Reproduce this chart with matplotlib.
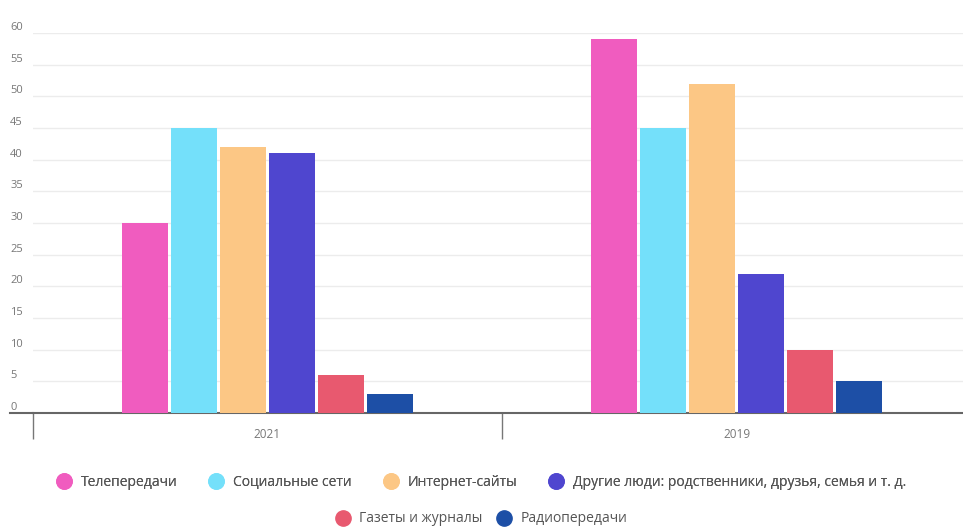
import matplotlib.pyplot as plt
import numpy as np
from matplotlib.lines import Line2D

plt.rcParams['font.family'] = ['Open Sans', 'DejaVu Sans']

years = ['2021', '2019']
series = ['Телепередачи', 'Социальные сети', 'Интернет-сайты',
          'Другие люди: родственники, друзья, семья и т. д.',
          'Газеты и журналы', 'Радиопередачи']
values = {
    'Телепередачи': [30, 59],
    'Социальные сети': [45, 45],
    'Интернет-сайты': [42, 52],
    'Другие люди: родственники, друзья, семья и т. д.': [41, 22],
    'Газеты и журналы': [6, 10],
    'Радиопередачи': [3, 5],
}
colors = ['#f05cbf', '#74e0fa', '#fcc785', '#4f46cf', '#e8596f', '#1d4fa6']
y_ticks = list(range(0, 61, 5))

W, H = 963, 527
fig = plt.figure(figsize=(W / 100, H / 100), dpi=100)
left, right, bottom, top = 33, 971, 413, 33
ax = fig.add_axes([left / W, 1 - bottom / H, (right - left) / W, (bottom - top) / H])

x = np.arange(len(years))
step = 49 / 469
width = 46 / 469
for i, name in enumerate(series):
    ax.bar(x + (i - 2.5) * step, values[name], width=width, color=colors[i], zorder=3)

ax.set_xlim(-0.5, 1.5)
ax.set_ylim(0, 60)
ax.set_yticks(y_ticks)
ax.set_yticklabels([str(t) for t in y_ticks])
ax.grid(axis='y', color='#ececec', linewidth=1, zorder=0)
ax.tick_params(axis='y', length=0, pad=16.5, labelsize=8, labelcolor='#777777')
for lab in ax.get_yticklabels():
    lab.set_horizontalalignment('left')
    lab.set_verticalalignment('bottom')

ax.set_xticks(x)
ax.set_xticklabels(years)
ax.tick_params(axis='x', length=0, pad=11, labelsize=8.5, labelcolor='#777777')
ax.set_xticks([-0.5, 0.5, 1.5], minor=True)
ax.tick_params(axis='x', which='minor', length=19, width=1, color='#777777', direction='out')

for s in ['top', 'right', 'left']:
    ax.spines[s].set_visible(False)
ax.spines['bottom'].set_color('#666666')
ax.spines['bottom'].set_linewidth(1.5)
fig.add_artist(Line2D([10 / W, left / W], [1 - bottom / H] * 2, color='#666666', lw=1.5))

handles = [Line2D([], [], marker='o', linestyle='', markersize=11, color=c) for c in colors]
leg_kw = dict(loc='center', frameon=False, fontsize=10, labelcolor='#555555',
              handletextpad=0.7, handlelength=1.0)
leg1 = fig.legend(handles[:4], series[:4], bbox_to_anchor=(0.5, 1 - 482 / H), ncol=4,
                  columnspacing=2.3, **leg_kw)
fig.legend(handles[4:], series[4:], bbox_to_anchor=(0.5, 1 - 519 / H), ncol=2,
           columnspacing=1.0, **leg_kw)
fig.add_artist(leg1)

fig.savefig('out.png', dpi=100)
